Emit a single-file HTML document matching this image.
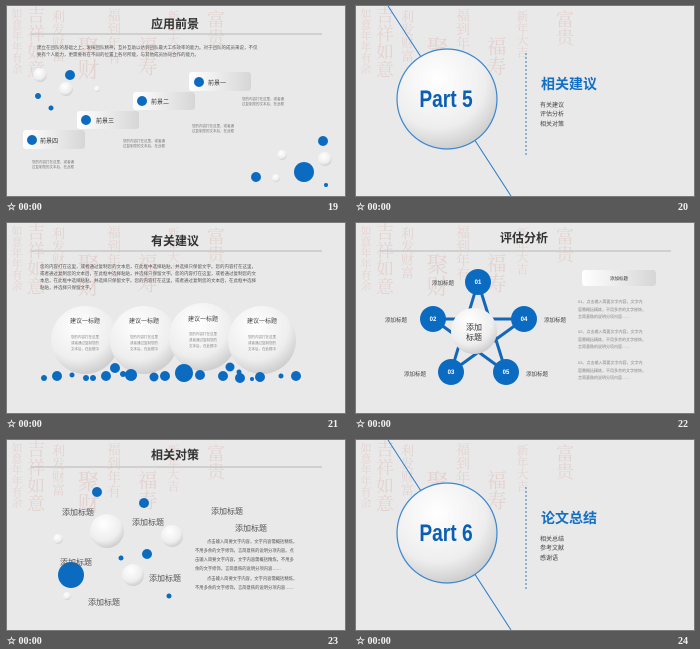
<!DOCTYPE html>
<html><head><meta charset="utf-8"><style>
body{margin:0;width:700px;height:649px;background:#595959;overflow:hidden;font-family:"Liberation Sans","Noto Sans CJK SC",sans-serif;position:relative}
.s{position:absolute;width:338px;height:190px;background:#e9e9e9;box-shadow:0 0 0 1px #7a7a7a}
.s svg{position:absolute;left:0;top:0}
.lb{position:absolute;color:#f2f2f2;font:bold 10px "Liberation Serif",serif}
.wm{position:absolute;left:0;top:0;width:240px;height:120px;overflow:hidden;pointer-events:none}
.wm span{position:absolute;writing-mode:vertical-rl;color:#d9a9a2;opacity:0.35;font-family:"Noto Serif CJK SC",serif;line-height:1}
</style></head><body>
<svg width="0" height="0" style="position:absolute"><defs>
<radialGradient id="wb" cx="40%" cy="30%" r="70%"><stop offset="0" stop-color="#fff"/><stop offset="0.7" stop-color="#eee"/><stop offset="1" stop-color="#cfcfcf"/></radialGradient>
<linearGradient id="bx" x1="0" x2="1"><stop offset="0" stop-color="#fff"/><stop offset="1" stop-color="#d6d6d6"/></linearGradient>
</defs></svg>

<div class="s" style="left:7px;top:6px">
<div class="wm"><span style="left:4px;top:2px;font-size:11px">如意年年有余</span><span style="left:20px;top:0;font-size:18px">吉祥如意</span><span style="left:45px;top:4px;font-size:13px">利发财富</span><span style="left:70px;top:30px;font-size:22px">聚财</span><span style="left:100px;top:2px;font-size:14px">福到年有</span><span style="left:130px;top:30px;font-size:20px">福寿</span><span style="left:160px;top:4px;font-size:12px">新年大吉</span><span style="left:200px;top:4px;font-size:18px">富贵</span></div>
<svg width="338" height="190" font-family="Liberation Sans,Noto Sans CJK SC,sans-serif">
<text x="168" y="22" font-size="12" font-weight="bold" text-anchor="middle" fill="#333">应用前景</text>
<line x1="24" y1="28" x2="315" y2="28" stroke="#c8c8c8" stroke-width="1.5"/>
<text x="30" y="43" font-size="4.5" fill="#555">建立在团队的基础之上，发挥团队精神，互补互助以达到团队最大工作效率的能力。对于团队的成员来说，不仅</text>
<text x="30" y="50" font-size="4.5" fill="#555">要有个人能力，更需要有在不同的位置上各尽所能，与其他成员协同合作的能力。</text>
<rect x="182" y="66" width="62" height="19" rx="3" fill="url(#bx)"/><circle cx="192" cy="76" r="5" fill="#0a6bc0"/><text x="201" y="79" font-size="6" fill="#333">前景一</text>
<rect x="126" y="86" width="62" height="18" rx="3" fill="url(#bx)"/><circle cx="135" cy="95" r="5" fill="#0a6bc0"/><text x="144" y="98" font-size="6" fill="#333">前景二</text>
<rect x="70" y="105" width="62" height="18" rx="3" fill="url(#bx)"/><circle cx="79" cy="114" r="5" fill="#0a6bc0"/><text x="89" y="117" font-size="6" fill="#333">前景三</text>
<rect x="16" y="124" width="62" height="19" rx="3" fill="url(#bx)"/><circle cx="25" cy="134" r="5" fill="#0a6bc0"/><text x="33" y="137" font-size="6" fill="#333">前景四</text>
<g font-size="3.5" fill="#777"><text x="235" y="94">您的内容打在这里，或者通</text><text x="235" y="99">过复制您的文本后，在此框</text><text x="185" y="121">您的内容打在这里，或者通</text><text x="185" y="126">过复制您的文本后，在此框</text><text x="116" y="136">您的内容打在这里，或者通</text><text x="116" y="141">过复制您的文本后，在此框</text><text x="25" y="157">您的内容打在这里，或者通</text><text x="25" y="162">过复制您的文本后，在此框</text></g>
<circle cx="33" cy="69" r="7" fill="url(#wb)"/><circle cx="59" cy="83" r="7" fill="url(#wb)"/><circle cx="90" cy="83" r="3" fill="url(#wb)"/>
<circle cx="63" cy="69" r="5" fill="#0a6bc0"/><circle cx="31" cy="90" r="3" fill="#0a6bc0"/><circle cx="44" cy="102" r="2.5" fill="#0a6bc0"/>
<circle cx="297" cy="166" r="10" fill="#0a6bc0"/><circle cx="316" cy="135" r="5" fill="#0a6bc0"/><circle cx="249" cy="171" r="5" fill="#0a6bc0"/><circle cx="319" cy="179" r="2" fill="#0a6bc0"/>
<circle cx="318" cy="153" r="7" fill="url(#wb)"/><circle cx="275" cy="149" r="5" fill="url(#wb)"/><circle cx="269" cy="172" r="4" fill="url(#wb)"/>
</svg></div>
<div class="lb" style="left:7px;top:202px">☆ 00:00</div>
<div class="lb" style="left:328px;top:202px">19</div>

<div class="s" style="left:356px;top:6px">
<div class="wm"><span style="left:4px;top:2px;font-size:11px">如意年年有余</span><span style="left:20px;top:0;font-size:18px">吉祥如意</span><span style="left:45px;top:4px;font-size:13px">利发财富</span><span style="left:70px;top:30px;font-size:22px">聚财</span><span style="left:100px;top:2px;font-size:14px">福到年有</span><span style="left:130px;top:30px;font-size:20px">福寿</span><span style="left:160px;top:4px;font-size:12px">新年大吉</span><span style="left:200px;top:4px;font-size:18px">富贵</span></div>
<svg width="338" height="190" font-family="Liberation Sans,Noto Sans CJK SC,sans-serif">
<line x1="32" y1="0" x2="155" y2="190" stroke="#2b7bc8" stroke-width="1"/>
<circle cx="91" cy="93" r="50" fill="url(#wb)" stroke="#3a86cf" stroke-width="1.2"/>
<text x="0" y="0" font-size="24" font-weight="bold" text-anchor="middle" fill="#0a5fb4" transform="translate(90 101) scale(0.8 1)">Part 5</text>
<line x1="170" y1="47" x2="170" y2="151" stroke="#3a76b8" stroke-dasharray="2,2"/>
<text x="185" y="83" font-size="14" font-weight="bold" fill="#1470c4">相关建议</text>
<g font-size="6" fill="#444"><text x="184" y="101">有关建议</text><text x="184" y="110">评估分析</text><text x="184" y="120">相关对策</text></g>
</svg></div>
<div class="lb" style="left:356px;top:202px">☆ 00:00</div>
<div class="lb" style="left:678px;top:202px">20</div>

<div class="s" style="left:7px;top:223px">
<div class="wm"><span style="left:4px;top:2px;font-size:11px">如意年年有余</span><span style="left:20px;top:0;font-size:18px">吉祥如意</span><span style="left:45px;top:4px;font-size:13px">利发财富</span><span style="left:70px;top:30px;font-size:22px">聚财</span><span style="left:100px;top:2px;font-size:14px">福到年有</span><span style="left:130px;top:30px;font-size:20px">福寿</span><span style="left:160px;top:4px;font-size:12px">新年大吉</span><span style="left:200px;top:4px;font-size:18px">富贵</span></div>
<svg width="338" height="190" font-family="Liberation Sans,Noto Sans CJK SC,sans-serif">
<text x="168" y="22" font-size="12" font-weight="bold" text-anchor="middle" fill="#333">有关建议</text>
<line x1="24" y1="28" x2="315" y2="28" stroke="#c8c8c8" stroke-width="1.5"/>
<g font-size="4.5" fill="#555"><text x="33" y="45">您的内容打在这里，或者通过复制您的文本后，在此框中选择粘贴，并选择只保留文字。您的内容打在这里，</text><text x="33" y="52">或者通过复制您的文本后，在此框中选择粘贴，并选择只保留文字。您的内容打在这里，或者通过复制您的文</text><text x="33" y="59">本后，在此框中选择粘贴，并选择只保留文字。您的内容打在这里，或者通过复制您的文本后，在此框中选择</text><text x="33" y="66">粘贴，并选择只保留文字。</text></g>
<g font-size="6" fill="#444" text-anchor="middle">
<circle cx="78" cy="117" r="34" fill="url(#wb)"/><text x="78" y="100">建议一标题</text>
<circle cx="137" cy="117" r="34" fill="url(#wb)"/><text x="137" y="100">建议一标题</text>
<circle cx="196" cy="114" r="34" fill="url(#wb)"/><text x="196" y="98">建议一标题</text>
<circle cx="255" cy="117" r="34" fill="url(#wb)"/><text x="255" y="100">建议一标题</text></g>
<g font-size="3.5" fill="#888" text-anchor="middle"><text x="78" y="115">您的内容打在这里</text><text x="78" y="121">或者通过复制您的</text><text x="78" y="127">文本后，在此框中</text><text x="137" y="115">您的内容打在这里</text><text x="137" y="121">或者通过复制您的</text><text x="137" y="127">文本后，在此框中</text><text x="196" y="112">您的内容打在这里</text><text x="196" y="118">或者通过复制您的</text><text x="196" y="124">文本后，在此框中</text><text x="255" y="115">您的内容打在这里</text><text x="255" y="121">或者通过复制您的</text><text x="255" y="127">文本后，在此框中</text></g>
<g fill="#0a6bc0"><circle cx="37" cy="155" r="3"/><circle cx="50" cy="153" r="5"/><circle cx="65" cy="152" r="2.5"/><circle cx="79" cy="155" r="3"/><circle cx="86" cy="155" r="3"/><circle cx="99" cy="153" r="5"/><circle cx="108" cy="145" r="5"/><circle cx="116" cy="151" r="3"/><circle cx="124" cy="152" r="6"/><circle cx="147" cy="154" r="4.5"/><circle cx="158" cy="153" r="5"/><circle cx="176" cy="150" r="3"/><circle cx="177" cy="150" r="9"/><circle cx="193" cy="152" r="5"/><circle cx="216" cy="153" r="5"/><circle cx="223" cy="144" r="4.5"/><circle cx="232" cy="149" r="2.5"/><circle cx="233" cy="155" r="5"/><circle cx="245" cy="156" r="2"/><circle cx="253" cy="154" r="5"/><circle cx="274" cy="153" r="2.5"/><circle cx="289" cy="153" r="5"/></g>
</svg></div>
<div class="lb" style="left:7px;top:419px">☆ 00:00</div>
<div class="lb" style="left:328px;top:419px">21</div>

<div class="s" style="left:356px;top:223px">
<div class="wm"><span style="left:4px;top:2px;font-size:11px">如意年年有余</span><span style="left:20px;top:0;font-size:18px">吉祥如意</span><span style="left:45px;top:4px;font-size:13px">利发财富</span><span style="left:70px;top:30px;font-size:22px">聚财</span><span style="left:100px;top:2px;font-size:14px">福到年有</span><span style="left:130px;top:30px;font-size:20px">福寿</span><span style="left:160px;top:4px;font-size:12px">新年大吉</span><span style="left:200px;top:4px;font-size:18px">富贵</span></div>
<svg width="338" height="190" font-family="Liberation Sans,Noto Sans CJK SC,sans-serif">
<text x="168" y="19" font-size="12" font-weight="bold" text-anchor="middle" fill="#333">评估分析</text>
<line x1="24" y1="28" x2="315" y2="28" stroke="#c8c8c8" stroke-width="1.5"/>
<g stroke="#1467b8" stroke-width="3"><line x1="122" y1="59" x2="95" y2="149"/><line x1="122" y1="59" x2="150" y2="149"/><line x1="77" y1="96" x2="168" y2="96"/><line x1="77" y1="96" x2="150" y2="149"/><line x1="168" y1="96" x2="95" y2="149"/></g>
<circle cx="118" cy="108" r="23" fill="url(#wb)"/>
<text x="118" y="107" font-size="8" text-anchor="middle" fill="#333">添加</text><text x="118" y="117" font-size="8" text-anchor="middle" fill="#333">标题</text>
<g fill="#0a6bc0"><circle cx="122" cy="59" r="13"/><circle cx="77" cy="96" r="13"/><circle cx="168" cy="96" r="13"/><circle cx="95" cy="149" r="13"/><circle cx="150" cy="149" r="13"/></g>
<g font-size="6" font-weight="bold" fill="#fff" text-anchor="middle"><text x="122" y="61">01</text><text x="77" y="98">02</text><text x="168" y="98">04</text><text x="95" y="151">03</text><text x="150" y="151">05</text></g>
<g font-size="5.5" fill="#444"><text x="76" y="62">添加标题</text><text x="29" y="99">添加标题</text><text x="188" y="99">添加标题</text><text x="48" y="153">添加标题</text><text x="170" y="153">添加标题</text></g>
<rect x="226" y="47" width="74" height="16" rx="3" fill="url(#bx)"/><text x="263" y="57" font-size="4.5" text-anchor="middle" fill="#333">添加标题</text>
<g font-size="4" fill="#888"><text x="222" y="80">01、点击输入简要文字内容，文字内</text><text x="222" y="88">容需概括精炼，不用多余的文字修饰，</text><text x="222" y="95">言简意赅的说明分项内容……</text><text x="222" y="110">02、点击输入简要文字内容，文字内</text><text x="222" y="118">容需概括精炼，不用多余的文字修饰，</text><text x="222" y="125">言简意赅的说明分项内容……</text><text x="222" y="141">03、点击输入简要文字内容，文字内</text><text x="222" y="149">容需概括精炼，不用多余的文字修饰，</text><text x="222" y="156">言简意赅的说明分项内容……</text></g>
</svg></div>
<div class="lb" style="left:356px;top:419px">☆ 00:00</div>
<div class="lb" style="left:678px;top:419px">22</div>

<div class="s" style="left:7px;top:440px">
<div class="wm"><span style="left:4px;top:2px;font-size:11px">如意年年有余</span><span style="left:20px;top:0;font-size:18px">吉祥如意</span><span style="left:45px;top:4px;font-size:13px">利发财富</span><span style="left:70px;top:30px;font-size:22px">聚财</span><span style="left:100px;top:2px;font-size:14px">福到年有</span><span style="left:130px;top:30px;font-size:20px">福寿</span><span style="left:160px;top:4px;font-size:12px">新年大吉</span><span style="left:200px;top:4px;font-size:18px">富贵</span></div>
<svg width="338" height="190" font-family="Liberation Sans,Noto Sans CJK SC,sans-serif">
<text x="168" y="19" font-size="12" font-weight="bold" text-anchor="middle" fill="#333">相关对策</text>
<line x1="24" y1="27" x2="315" y2="27" stroke="#c8c8c8" stroke-width="1.5"/>
<circle cx="100" cy="91" r="17" fill="url(#wb)"/><circle cx="165" cy="96" r="11" fill="url(#wb)"/><circle cx="126" cy="135" r="11" fill="url(#wb)"/><circle cx="51" cy="99" r="5" fill="url(#wb)"/><circle cx="60" cy="156" r="4" fill="url(#wb)"/>
<g fill="#0a6bc0"><circle cx="64" cy="135" r="13"/><circle cx="90" cy="52" r="5"/><circle cx="137" cy="63" r="5"/><circle cx="140" cy="114" r="5"/><circle cx="114" cy="118" r="2.5"/><circle cx="162" cy="156" r="2.5"/></g>
<g font-size="8" fill="#555"><text x="55" y="75">添加标题</text><text x="125" y="85">添加标题</text><text x="53" y="125">添加标题</text><text x="142" y="141">添加标题</text><text x="81" y="165">添加标题</text><text x="204" y="74">添加标题</text><text x="228" y="91">添加标题</text></g>
<g font-size="4.3" fill="#555"><text x="200" y="103">点击输入简要文字内容，文字内容需概括精炼，</text><text x="188" y="112">不用多余的文字修饰，言简意赅的说明分项内容。点</text><text x="188" y="121">击输入简要文字内容，文字内容需概括精炼，不用多</text><text x="188" y="130">余的文字修饰，言简意赅的说明分项内容……</text><text x="200" y="140">点击输入简要文字内容，文字内容需概括精炼，</text><text x="188" y="149">不用多余的文字修饰，言简意赅的说明分项内容……</text></g>
</svg></div>
<div class="lb" style="left:7px;top:636px">☆ 00:00</div>
<div class="lb" style="left:328px;top:636px">23</div>

<div class="s" style="left:356px;top:440px">
<div class="wm"><span style="left:4px;top:2px;font-size:11px">如意年年有余</span><span style="left:20px;top:0;font-size:18px">吉祥如意</span><span style="left:45px;top:4px;font-size:13px">利发财富</span><span style="left:70px;top:30px;font-size:22px">聚财</span><span style="left:100px;top:2px;font-size:14px">福到年有</span><span style="left:130px;top:30px;font-size:20px">福寿</span><span style="left:160px;top:4px;font-size:12px">新年大吉</span><span style="left:200px;top:4px;font-size:18px">富贵</span></div>
<svg width="338" height="190" font-family="Liberation Sans,Noto Sans CJK SC,sans-serif">
<line x1="32" y1="0" x2="155" y2="190" stroke="#2b7bc8" stroke-width="1"/>
<circle cx="91" cy="93" r="50" fill="url(#wb)" stroke="#3a86cf" stroke-width="1.2"/>
<text x="0" y="0" font-size="24" font-weight="bold" text-anchor="middle" fill="#0a5fb4" transform="translate(90 101) scale(0.8 1)">Part 6</text>
<line x1="170" y1="47" x2="170" y2="151" stroke="#3a76b8" stroke-dasharray="2,2"/>
<text x="185" y="83" font-size="14" font-weight="bold" fill="#1470c4">论文总结</text>
<g font-size="6" fill="#444"><text x="184" y="101">相关总结</text><text x="184" y="110">参考文献</text><text x="184" y="120">感谢语</text></g>
</svg></div>
<div class="lb" style="left:356px;top:636px">☆ 00:00</div>
<div class="lb" style="left:678px;top:636px">24</div>
</body></html>
